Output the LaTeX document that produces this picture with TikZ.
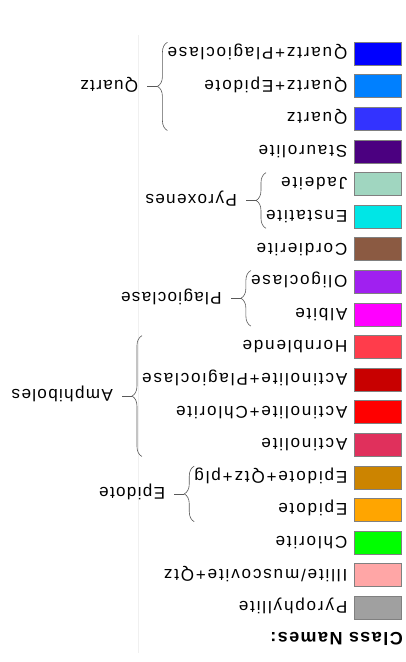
\documentclass[tikz,border=0pt]{standalone}
\usepackage{tikz}
\usepackage{xcolor}
\usepackage{fontspec}
\usetikzlibrary{decorations.pathreplacing,calc}
\newfontfamily\itemfont[LetterSpace=11]{Liberation Sans}
\newfontfamily\grpfont[LetterSpace=8]{Liberation Sans}
\newfontfamily\headfont[LetterSpace=8]{Liberation Sans}
\definecolor{pyro}{HTML}{A0A0A0}
\definecolor{illite}{HTML}{FFA6A6}
\definecolor{chlor}{HTML}{00FF00}
\definecolor{epid}{HTML}{FFA500}
\definecolor{epqp}{HTML}{CC8400}
\definecolor{actin}{HTML}{E0305C}
\definecolor{acchl}{HTML}{FF0000}
\definecolor{acplg}{HTML}{C80000}
\definecolor{hornb}{HTML}{FF3C4B}
\definecolor{albite}{HTML}{FF00FF}
\definecolor{oligo}{HTML}{A020F0}
\definecolor{cordi}{HTML}{8B5A42}
\definecolor{ensta}{HTML}{00E6E6}
\definecolor{jadei}{HTML}{A0D6C0}
\definecolor{stauro}{HTML}{4B0080}
\definecolor{qtz}{HTML}{3333FF}
\definecolor{qtzep}{HTML}{0080FF}
\definecolor{qtzpl}{HTML}{0000FF}

\begin{document}
\begin{tikzpicture}[x=1pt, y=-1pt, rotate=180, transform shape,
  swatch/.style={draw=gray, line width=.9pt, minimum width=47pt, minimum height=23pt, inner sep=0, outer sep=0},
  item/.style={anchor=west, inner sep=0, text height=12.5pt, text depth=0pt, font=\itemfont\fontsize{17}{20}\selectfont},
  grp/.style={anchor=west, inner sep=0, text height=12.5pt, text depth=0pt, font=\grpfont\fontsize{17}{20}\selectfont},
  grpbrace/.style={decorate, decoration={brace, amplitude=10pt}, draw=black!65, line width=.6pt}]
  \useasboundingbox (0,0) rectangle (406,662);
  \draw [gray!12] (268,9) -- (268,627);
  \node[anchor=west, inner sep=0, text height=13pt, text depth=0pt, font=\headfont\bfseries\fontsize{18}{21}\selectfont] (head) at (3,23) {Class Names:};
  \foreach \col/\txt [count=\i from 0] in {pyro/Pyrophyllite, illite/{Illite/muscovite+Qtz}, chlor/Chlorite, epid/Epidote, epqp/Epidote+Qtz+plg, actin/Actinolite, acchl/Actinolite+Chlorite, acplg/Actinolite+Plagioclase, hornb/Hornblende, albite/Albite, oligo/Oligoclase, cordi/Cordierite, ensta/Enstatite, jadei/Jadeite, stauro/Staurolite, qtz/Quartz, qtzep/Quartz+Epidote, qtzpl/Quartz+Plagioclase} {
    \node[swatch, fill=\col] (s\i) at (28, {54+32.6*\i}) {};
    \node[item] (t\i) at ([xshift=7pt]s\i.east) {\txt};
  }
  \foreach \g/\first/\last/\wide/\txt in {quartz/15/17/17/Quartz, pyrox/12/13/12/Pyroxenes, plag/9/10/10/Plagioclase, amph/5/8/7/Amphiboles, epidote/3/4/4/Epidote} {
    \coordinate (\g-top) at (t\wide.east |- s\first.north);
    \coordinate (\g-bot) at (t\wide.east |- s\last.south);
    \draw [grpbrace] (\g-top) -- (\g-bot);
    \coordinate (\g-tip) at ($(\g-top)!.5!(\g-bot)+(10,0)$);
    \node[grp] (\g) at ($(\g-tip)+(19,0)$) {\txt};
    \draw [black!65, line width=.6pt] (\g-tip) -- ([xshift=-9pt]\g.west);
  }
\end{tikzpicture}
\end{document}
